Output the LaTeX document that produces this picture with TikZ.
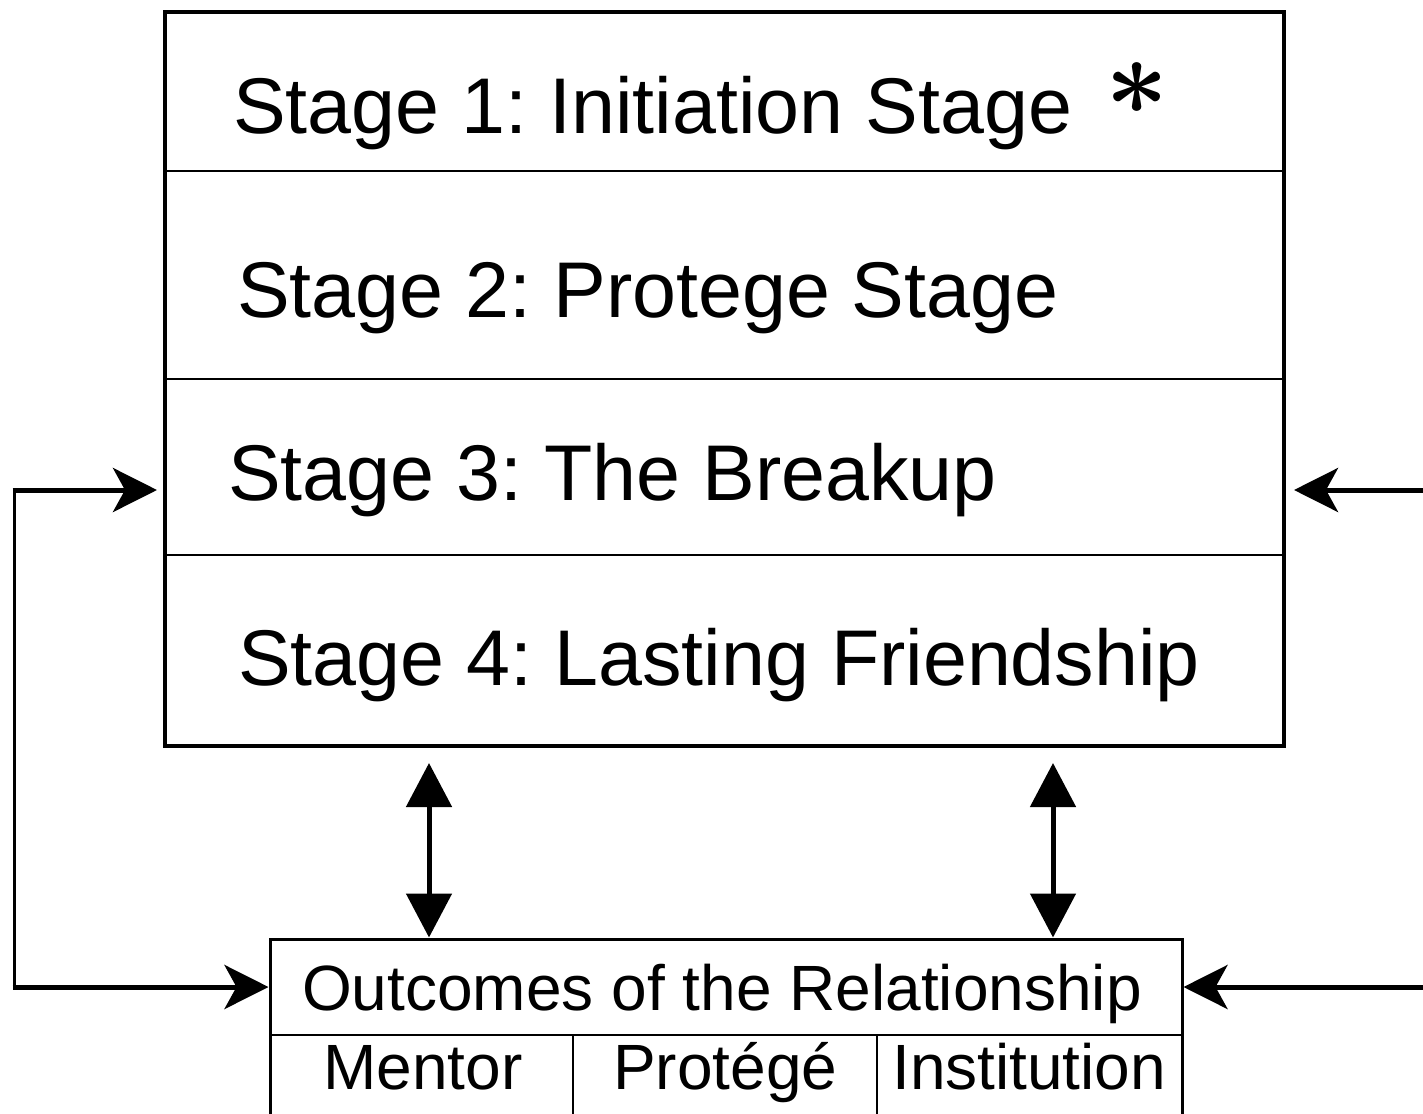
\documentclass[tikz,border=0pt]{standalone}
\usepackage{fontspec}
\setmainfont{Liberation Sans}
\usepackage{graphicx}
\usetikzlibrary{arrows.meta}
\frenchspacing
\begin{document}
\frenchspacing
\begin{tikzpicture}[x=1pt,y=-1pt,
  big/.style={font=\fontsize{79}{90}\selectfont, anchor=base west, inner sep=0pt},
  mid/.style={font=\fontsize{64}{72}\selectfont, anchor=base west, inner sep=0pt},
  thinline/.style={line width=1.6pt},
  sideline/.style={line width=5pt, -{Stealth[length=44pt,width=44pt,inset=12pt]}},
  dbl/.style={line width=5pt, {Triangle[length=44pt,width=45pt]}-{Triangle[length=44pt,width=45pt]}},
]
\useasboundingbox (0,0) rectangle (1423,1113);
% main box
\node[draw, line width=4pt, minimum width=1119pt, minimum height=734pt, inner sep=0pt] (main) at (724.5,379) {};
\draw[thinline] (165,171) -- (1284,171);
\draw[thinline] (165,379) -- (1284,379);
\draw[thinline] (165,555) -- (1284,555);
\node[big] (s1) at (233,133) {Stage 1: Initiation Stage};
\node[inner sep=0pt] (ast) at (1137,89) {\scalebox{11}{\boldmath$\ast$}};
\node[big] (s2) at (237,317) {Stage 2: Protege Stage};
\node[big] (s3) at (228,500) {Stage 3: The Breakup};
\node[big] (s4) at (238,685) {Stage 4: Lasting Friendship};
% outcomes box
\node[draw, line width=3pt, minimum width=912pt, minimum height=191pt, inner sep=0pt] (out) at (726,1034.5) {};
\draw[thinline] (270,1035) -- (1182,1035);
\draw[thinline] (573,1035) -- (573,1135);
\draw[thinline] (877,1035) -- (877,1135);
\node[mid] (oc) at (302,1010) {Outcomes of the Relationship};
\node[mid] (mentor) at (323,1089) {Mentor};
\node[mid] (protege) at (613,1089) {Protégé};
\node[mid] (inst) at (892,1089) {Institution};
% connectors
\coordinate (lc) at (14,490);
\coordinate (lb) at (14,987);
\draw[line width=3pt] (lc) -- (lb);
\draw[sideline] ([xshift=-1.5pt]lc) -- ([xshift=-6pt]main.west |- lc);
\draw[sideline] ([xshift=-1.5pt]lb) -- (out.west |- lb);
\coordinate (rc) at (1430,490);
\coordinate (rb) at (1430,987);
\draw[sideline] (rc) -- ([xshift=8pt]main.east |- rc);
\draw[sideline] (rb) -- (out.east |- rb);
\coordinate (d1) at (429,763);
\coordinate (d2) at (1053,763);
\draw[dbl] (d1) -- (d1 |- out.north);
\draw[dbl] (d2) -- (d2 |- out.north);
\end{tikzpicture}
\end{document}
